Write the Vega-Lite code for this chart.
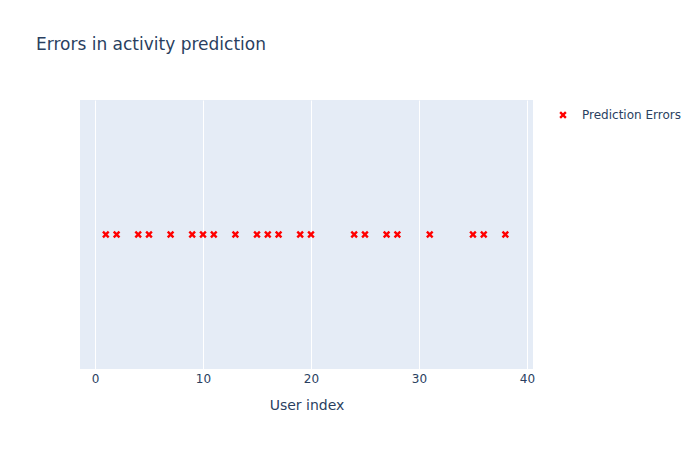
{
  "$schema": "https://vega.github.io/schema/vega-lite/v6.json",
  "width": 453,
  "height": 269,
  "padding": {"left": 80, "top": 100, "right": 167, "bottom": 81},
  "autosize": {"type": "none"},
  "background": "white",
  "config": {
    "view": {"fill": "#e5ecf6", "stroke": null},
    "font": "DejaVu Sans"
  },
  "title": {
    "text": "Errors in activity prediction",
    "anchor": "start",
    "frame": "group",
    "font": "DejaVu Sans",
    "fontSize": 17,
    "fontWeight": "normal",
    "color": "#2a3f5f",
    "dx": -44,
    "offset": 46
  },
  "data": {
    "values": [
      {"user": 1, "y": 1, "series": "Prediction Errors"},
      {"user": 2, "y": 1, "series": "Prediction Errors"},
      {"user": 4, "y": 1, "series": "Prediction Errors"},
      {"user": 5, "y": 1, "series": "Prediction Errors"},
      {"user": 7, "y": 1, "series": "Prediction Errors"},
      {"user": 9, "y": 1, "series": "Prediction Errors"},
      {"user": 10, "y": 1, "series": "Prediction Errors"},
      {"user": 11, "y": 1, "series": "Prediction Errors"},
      {"user": 13, "y": 1, "series": "Prediction Errors"},
      {"user": 15, "y": 1, "series": "Prediction Errors"},
      {"user": 16, "y": 1, "series": "Prediction Errors"},
      {"user": 17, "y": 1, "series": "Prediction Errors"},
      {"user": 19, "y": 1, "series": "Prediction Errors"},
      {"user": 20, "y": 1, "series": "Prediction Errors"},
      {"user": 24, "y": 1, "series": "Prediction Errors"},
      {"user": 25, "y": 1, "series": "Prediction Errors"},
      {"user": 27, "y": 1, "series": "Prediction Errors"},
      {"user": 28, "y": 1, "series": "Prediction Errors"},
      {"user": 31, "y": 1, "series": "Prediction Errors"},
      {"user": 35, "y": 1, "series": "Prediction Errors"},
      {"user": 36, "y": 1, "series": "Prediction Errors"},
      {"user": 38, "y": 1, "series": "Prediction Errors"}
    ]
  },
  "mark": {"type": "point", "filled": true, "size": 55, "opacity": 1},
  "encoding": {
    "x": {
      "field": "user",
      "type": "quantitative",
      "scale": {"domain": [-1.39, 40.56], "nice": false, "zero": false},
      "axis": {
        "title": "User index",
        "values": [0, 10, 20, 30, 40],
        "domain": false,
        "ticks": false,
        "grid": true,
        "gridColor": "white",
        "gridWidth": 1,
        "labelFont": "DejaVu Sans",
        "labelFontSize": 12,
        "labelColor": "#2a3f5f",
        "labelPadding": 4,
        "titleFont": "DejaVu Sans",
        "titleFontSize": 14,
        "titleFontWeight": "normal",
        "titleColor": "#2a3f5f",
        "titlePadding": 14
      }
    },
    "y": {
      "field": "y",
      "type": "quantitative",
      "scale": {"domain": [0, 2]},
      "axis": null
    },
    "color": {
      "field": "series",
      "type": "nominal",
      "scale": {"range": ["#ff0000"]},
      "legend": {
        "title": null,
        "orient": "none",
        "legendX": 477,
        "legendY": 9,
        "padding": 0,
        "labelFont": "DejaVu Sans",
        "labelFontSize": 12,
        "labelColor": "#2a3f5f",
        "labelOffset": 13,
        "symbolSize": 55
      }
    },
    "shape": {
      "field": "series",
      "type": "nominal",
      "scale": {"range": ["M-0.45,0L-1,-0.55L-0.55,-1L0,-0.45L0.55,-1L1,-0.55L0.45,0L1,0.55L0.55,1L0,0.45L-0.55,1L-1,0.55Z"]}
    }
  }
}
